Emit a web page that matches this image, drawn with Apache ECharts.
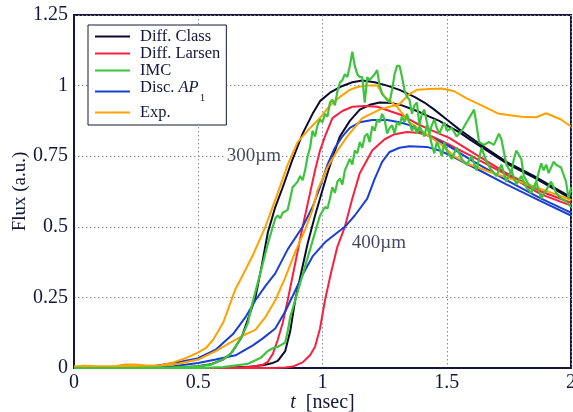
<!DOCTYPE html>
<html>
<head>
<meta charset="utf-8">
<script src="https://cdn.jsdelivr.net/npm/echarts@6/dist/echarts.min.js"></script>
<style>html,body{margin:0;padding:0;background:#fff;}#c{width:573px;height:412px;}</style>
</head>
<body>
<div id="c"></div>
<script>
// ---- data (t [nsec], flux) ----
const xTicks = [0, 0.5, 1, 1.5, 2];
const yTicks = [0, 0.25, 0.5, 0.75, 1, 1.25];
const seriesNames = ['Diff. Class', 'Diff. Larsen', 'IMC', 'Disc. AP1', 'Exp.'];

const diffClass300 = [[0,0],[0.3,0],[0.45,0.003],[0.5,0.006],[0.55,0.013],[0.6,0.03],[0.63,0.05],[0.65,0.075],[0.675,0.11],[0.695,0.16],[0.73,0.25],[0.755,0.36],[0.78,0.48],[0.81,0.57],[0.84,0.64],[0.88,0.74],[0.92,0.83],[0.96,0.9],[0.99,0.945],[1.03,0.975],[1.07,0.995],[1.12,1.012],[1.16,1.018],[1.21,1.012],[1.26,1.0],[1.31,0.985],[1.37,0.96],[1.41,0.94],[1.45,0.915],[1.5,0.88],[1.55,0.845],[1.63,0.795],[1.74,0.73],[1.85,0.68],[1.93,0.64],[2.0,0.605]];
const diffClass400 = [[0,0],[0.6,0],[0.7,0.004],[0.76,0.01],[0.8,0.018],[0.82,0.025],[0.85,0.06],[0.87,0.13],[0.89,0.24],[0.915,0.34],[0.94,0.44],[0.97,0.54],[1.0,0.63],[1.02,0.69],[1.05,0.77],[1.07,0.82],[1.11,0.875],[1.15,0.915],[1.19,0.932],[1.23,0.94],[1.28,0.938],[1.32,0.93],[1.38,0.91],[1.43,0.89],[1.47,0.875],[1.51,0.855],[1.55,0.835],[1.6,0.805],[1.74,0.725],[1.85,0.675],[2.0,0.6]];

const larsen300 = [[0,0],[0.65,0],[0.72,0.005],[0.76,0.012],[0.78,0.022],[0.8,0.05],[0.82,0.1],[0.84,0.16],[0.86,0.24],[0.89,0.37],[0.92,0.5],[0.95,0.62],[0.97,0.7],[0.99,0.77],[1.01,0.82],[1.04,0.885],[1.08,0.91],[1.12,0.925],[1.17,0.928],[1.22,0.925],[1.27,0.91],[1.32,0.895],[1.38,0.865],[1.43,0.845],[1.51,0.815],[1.61,0.76],[1.74,0.69],[1.88,0.625],[2.0,0.585]];
const larsen400 = [[0,0],[0.8,0],[0.85,0.002],[0.88,0.005],[0.92,0.02],[0.95,0.045],[0.97,0.075],[0.99,0.14],[1.01,0.24],[1.035,0.34],[1.06,0.43],[1.09,0.5],[1.12,0.6],[1.15,0.69],[1.2,0.77],[1.25,0.81],[1.29,0.828],[1.34,0.836],[1.39,0.832],[1.44,0.82],[1.5,0.795],[1.6,0.75],[1.74,0.685],[1.88,0.615],[2.0,0.575]];

const ap300 = [[0,0],[0.2,0.001],[0.33,0.008],[0.42,0.02],[0.5,0.035],[0.57,0.065],[0.64,0.12],[0.69,0.18],[0.73,0.24],[0.77,0.29],[0.81,0.335],[0.86,0.42],[0.92,0.5],[0.96,0.57],[0.99,0.64],[1.02,0.72],[1.05,0.78],[1.08,0.82],[1.11,0.85],[1.15,0.87],[1.2,0.878],[1.26,0.878],[1.31,0.87],[1.35,0.86],[1.43,0.82],[1.51,0.785],[1.61,0.73],[1.74,0.665],[1.88,0.6],[2.0,0.55]];
const ap400 = [[0,0],[0.3,0.002],[0.4,0.006],[0.5,0.018],[0.57,0.03],[0.65,0.045],[0.72,0.08],[0.76,0.105],[0.81,0.14],[0.85,0.2],[0.88,0.255],[0.92,0.33],[0.96,0.395],[1.01,0.445],[1.06,0.48],[1.09,0.5],[1.13,0.54],[1.18,0.6],[1.21,0.67],[1.24,0.73],[1.27,0.765],[1.31,0.78],[1.35,0.785],[1.42,0.783],[1.47,0.77],[1.51,0.755],[1.61,0.71],[1.74,0.65],[1.88,0.59],[2.0,0.54]];

const exp300 = [[0,0.005],[0.04,0.008],[0.1,0.006],[0.15,0.004],[0.2,0.012],[0.25,0.012],[0.3,0.008],[0.35,0.01],[0.4,0.02],[0.45,0.035],[0.5,0.055],[0.53,0.07],[0.56,0.1],[0.6,0.16],[0.65,0.28],[0.68,0.33],[0.72,0.4],[0.77,0.5],[0.82,0.62],[0.86,0.72],[0.9,0.8],[0.95,0.85],[0.99,0.885],[1.03,0.93],[1.07,0.96],[1.11,0.985],[1.14,0.995],[1.18,1.0],[1.22,1.0],[1.25,0.96],[1.3,0.925],[1.35,0.87],[1.43,0.82],[1.48,0.79],[1.53,0.75],[1.58,0.725],[1.67,0.695],[1.81,0.655],[1.94,0.615],[2.0,0.595]];
const exp400 = [[0,0.003],[0.1,0.004],[0.2,0.008],[0.3,0.006],[0.35,0.008],[0.42,0.015],[0.5,0.03],[0.57,0.06],[0.64,0.095],[0.68,0.115],[0.73,0.135],[0.77,0.18],[0.81,0.24],[0.85,0.32],[0.89,0.41],[0.93,0.49],[0.96,0.56],[0.98,0.63],[1.02,0.71],[1.06,0.77],[1.1,0.82],[1.16,0.885],[1.23,0.915],[1.31,0.935],[1.35,0.97],[1.38,0.985],[1.43,0.988],[1.48,0.99],[1.53,0.98],[1.58,0.955],[1.64,0.93],[1.71,0.9],[1.8,0.89],[1.86,0.888],[1.9,0.902],[1.96,0.88],[2.0,0.855]];

const imc300 = [[0,0],[0.2,0],[0.4,0.002],[0.5,0.006],[0.55,0.012],[0.6,0.03],[0.63,0.05],[0.66,0.09],[0.68,0.12],[0.7,0.16],[0.715,0.22],[0.73,0.27],[0.745,0.32],[0.76,0.37],[0.78,0.44],[0.8,0.5],[0.81,0.53],[0.82,0.54],[0.83,0.53],[0.84,0.55],[0.85,0.555],[0.86,0.56],[0.87,0.6],[0.88,0.64],[0.89,0.65],[0.9,0.66],[0.91,0.68],[0.92,0.665],[0.93,0.7],[0.94,0.75],[0.95,0.78],[0.96,0.84],[0.97,0.82],[0.98,0.86],[0.99,0.88],[1.0,0.87],[1.01,0.9],[1.02,0.89],[1.03,0.94],[1.04,0.95],[1.05,0.93],[1.06,0.98],[1.07,1.01],[1.08,1.02],[1.09,1.04],[1.1,1.03],[1.11,1.07],[1.12,1.12],[1.13,1.07],[1.14,1.04],[1.15,1.03],[1.16,1.03],[1.17,0.94],[1.18,1.03],[1.19,1.02],[1.2,1.03],[1.21,1.04],[1.22,1.055],[1.23,1.0],[1.24,0.97],[1.25,0.96],[1.26,0.95],[1.27,0.94],[1.28,0.985],[1.29,1.04],[1.3,1.07],[1.31,1.07],[1.32,1.03],[1.33,0.985],[1.34,0.96],[1.35,0.95],[1.36,0.9],[1.37,0.93],[1.38,0.94],[1.39,0.86],[1.4,0.9],[1.41,0.915],[1.42,0.87],[1.43,0.83],[1.44,0.86],[1.45,0.88],[1.46,0.85],[1.47,0.83],[1.48,0.85],[1.49,0.87],[1.5,0.84],[1.52,0.85],[1.54,0.82],[1.56,0.84],[1.58,0.87],[1.6,0.9],[1.61,0.915],[1.62,0.86],[1.63,0.8],[1.65,0.79],[1.67,0.8],[1.69,0.79],[1.71,0.83],[1.72,0.81],[1.74,0.72],[1.76,0.69],[1.77,0.74],[1.78,0.77],[1.8,0.74],[1.81,0.68],[1.83,0.65],[1.85,0.63],[1.86,0.66],[1.88,0.725],[1.89,0.7],[1.9,0.72],[1.91,0.69],[1.93,0.73],[1.94,0.72],[1.96,0.71],[1.98,0.66],[1.99,0.6],[2.0,0.64]];
const imc400 = [[0,0],[0.5,0],[0.6,0.003],[0.7,0.015],[0.75,0.035],[0.78,0.06],[0.8,0.07],[0.82,0.075],[0.83,0.08],[0.84,0.085],[0.85,0.09],[0.86,0.13],[0.87,0.18],[0.88,0.21],[0.89,0.24],[0.9,0.27],[0.91,0.3],[0.92,0.33],[0.93,0.36],[0.94,0.39],[0.95,0.42],[0.96,0.45],[0.97,0.48],[0.98,0.51],[0.99,0.54],[1.0,0.555],[1.01,0.57],[1.02,0.565],[1.03,0.6],[1.04,0.64],[1.05,0.62],[1.06,0.66],[1.07,0.67],[1.08,0.65],[1.09,0.7],[1.1,0.72],[1.11,0.74],[1.12,0.72],[1.13,0.77],[1.14,0.76],[1.15,0.8],[1.16,0.78],[1.17,0.82],[1.18,0.83],[1.19,0.8],[1.2,0.855],[1.21,0.84],[1.22,0.88],[1.23,0.87],[1.24,0.9],[1.25,0.88],[1.26,0.83],[1.27,0.85],[1.28,0.86],[1.29,0.83],[1.3,0.87],[1.31,0.86],[1.32,0.89],[1.33,0.87],[1.34,0.9],[1.35,0.87],[1.36,0.84],[1.37,0.86],[1.38,0.83],[1.39,0.855],[1.4,0.84],[1.41,0.82],[1.42,0.86],[1.43,0.83],[1.44,0.79],[1.45,0.76],[1.46,0.8],[1.47,0.78],[1.48,0.75],[1.49,0.8],[1.5,0.77],[1.52,0.74],[1.54,0.78],[1.56,0.74],[1.58,0.72],[1.6,0.75],[1.62,0.7],[1.64,0.78],[1.66,0.73],[1.68,0.7],[1.7,0.68],[1.72,0.72],[1.74,0.66],[1.76,0.7],[1.78,0.65],[1.8,0.68],[1.82,0.64],[1.84,0.62],[1.86,0.66],[1.88,0.6],[1.9,0.63],[1.92,0.66],[1.94,0.62],[1.96,0.6],[1.98,0.59],[2.0,0.57]];

const annotations = [['300µm', 0.724, 0.751], ['400µm', 1.227, 0.443]];

// ---- styling ----
const colors = {'Diff. Class':'#0b0b2e','Diff. Larsen':'#f8203f','IMC':'#3cc43c','Disc. AP1':'#1a3fd2','Exp.':'#ffa200'};
const ink = '#16163c';
const serif = '"Liberation Serif","Times New Roman",serif';

function line(name, data, w) {
  return {name, type:'line', data, symbol:'none', smooth:false, animation:false,
          lineStyle:{color:colors[name], width:w||2}, itemStyle:{color:colors[name]}, z:3};
}

const chart = echarts.init(document.getElementById('c'), null, {renderer:'canvas'});
chart.setOption({
  backgroundColor:'#fff',
  animation:false,
  grid:{left:74, right:2, top:15, bottom:44, containLabel:false, outerBoundsMode:'none',
        show:true, borderColor:ink, borderWidth:2, backgroundColor:'transparent'},
  legend:{
    data:seriesNames, orient:'vertical', left:88, top:25,
    padding:[3,6,4,7], itemGap:0, itemWidth:35, itemHeight:2, icon:'rect',
    borderColor:ink, borderWidth:1, backgroundColor:'#fff',
    formatter:function(n){ return n==='Disc. AP1' ? '{t|Disc. }{ti|AP}{s|1}' : '{n|'+n+'}'; },
    textStyle:{fontFamily:serif, fontSize:16.5, color:ink, padding:[0,0,0,5],
      rich:{n:{fontFamily:serif, fontSize:16.5, color:ink, lineHeight:17},
            t:{fontFamily:serif, fontSize:16.5, color:ink, lineHeight:17, padding:[0,0,8,0]},
            ti:{fontFamily:serif, fontSize:16.5, fontStyle:'italic', color:ink, lineHeight:17, padding:[0,0,8,0]},
            s:{fontFamily:serif, fontSize:11, color:ink, padding:[14,0,0,1], lineHeight:11}}},
    selectedMode:false
  },
  xAxis:{type:'value', min:0, max:2, interval:0.5,
    name:'{i|t}{n|  [nsec]}', nameLocation:'middle', nameGap:25, nameMoveOverlap:false,
    nameTextStyle:{rich:{i:{fontFamily:serif, fontSize:20, fontStyle:'italic', color:ink},
                         n:{fontFamily:serif, fontSize:20, color:ink}}},
    axisLine:{show:true, lineStyle:{color:ink, width:2}}, axisTick:{show:false},
    axisLabel:{fontFamily:serif, fontSize:20, color:ink, margin:5,
      formatter:function(v){ return xTicks.indexOf(v)>=0 ? String(v) : ''; }},
    splitLine:{show:true, lineStyle:{color:'#8f86a8', type:[1.5,2.5], width:1}}},
  yAxis:{type:'value', min:0, max:1.25, interval:0.25,
    name:'Flux (a.u.)', nameLocation:'middle', nameGap:44, nameMoveOverlap:false,
    nameTextStyle:{fontFamily:serif, fontSize:19, color:ink},
    axisLine:{show:true, lineStyle:{color:ink, width:2}}, axisTick:{show:false},
    axisLabel:{fontFamily:serif, fontSize:20, color:ink, margin:6,
      formatter:function(v){ return yTicks.indexOf(v)>=0 ? String(v) : ''; }},
    splitLine:{show:true, lineStyle:{color:'#8f86a8', type:[1.5,2.5], width:1}}},
  series:[
    line('Diff. Class', diffClass300), line('Diff. Class', diffClass400),
    line('Diff. Larsen', larsen300), line('Diff. Larsen', larsen400),
    line('Disc. AP1', ap300), line('Disc. AP1', ap400),
    line('Exp.', exp300), line('Exp.', exp400),
    line('IMC', imc300, 2.2), line('IMC', imc400, 2.2),
    {name:'labels', type:'scatter', symbolSize:0, animation:false, silent:true, z:5,
     data:annotations.map(a=>({value:[a[1], a[2]], name:a[0]})),
     label:{show:true, position:'inside', formatter:p=>p.name, fontFamily:serif, fontSize:19, color:ink,
            backgroundColor:'#fff', padding:[0,1]}}
  ]
});
</script>
</body>
</html>
